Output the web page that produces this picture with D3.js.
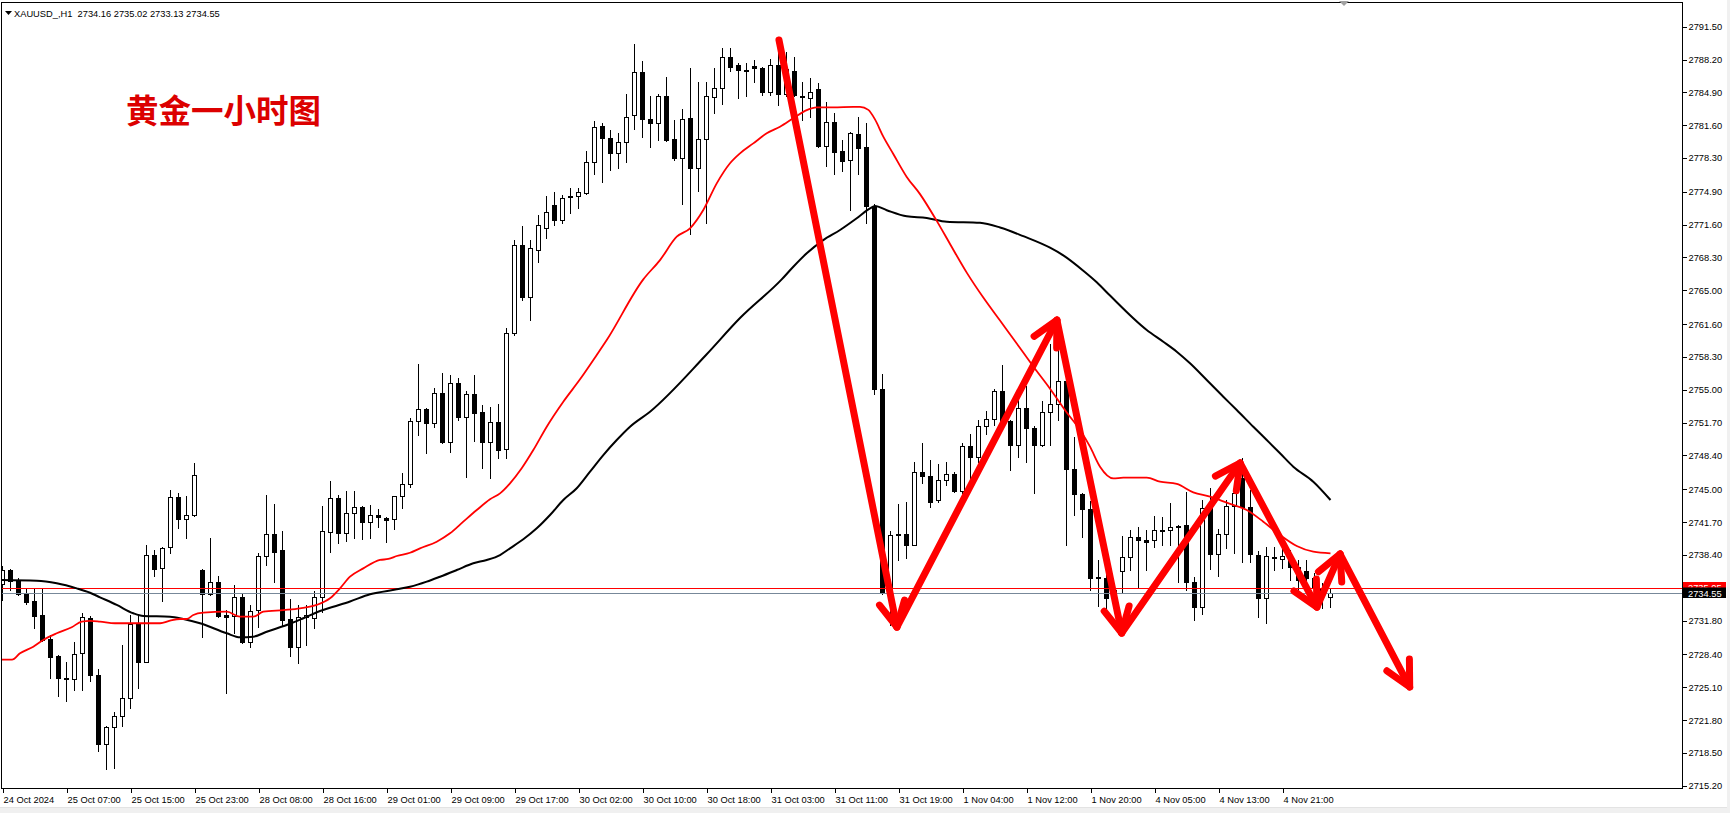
<!DOCTYPE html>
<html><head><meta charset="utf-8">
<script src="https://cdn.jsdelivr.net/npm/d3@7"></script>
<style>
html,body{margin:0;padding:0;background:#fff;overflow:hidden}
svg{display:block}
</style>
</head><body>
<svg id="chart" width="1730" height="813"></svg>
<script>
// ---------------- DATA ----------------
const symbolName = "XAUUSD_,H1";
const lastBarOHLC = ["2734.16", "2735.02", "2733.13", "2734.55"];
const titleText = "黄金一小时图";

const timeLabels = ["24 Oct 2024","25 Oct 07:00","25 Oct 15:00","25 Oct 23:00","28 Oct 08:00","28 Oct 16:00",
  "29 Oct 01:00","29 Oct 09:00","29 Oct 17:00","30 Oct 02:00","30 Oct 10:00","30 Oct 18:00","31 Oct 03:00",
  "31 Oct 11:00","31 Oct 19:00","1 Nov 04:00","1 Nov 12:00","1 Nov 20:00","4 Nov 05:00","4 Nov 13:00","4 Nov 21:00"];
const timeLabelBar = [0,8,16,24,32,40,48,56,64,72,80,88,96,104,112,120,128,136,144,152,160];

const priceTicks = [2791.50,2788.20,2784.90,2781.60,2778.30,2774.90,2771.60,2768.30,2765.00,2761.60,2758.30,
  2755.00,2751.70,2748.40,2745.00,2741.70,2738.40,2731.80,2728.40,2725.10,2721.80,2718.50,2715.20];

const open = [2735.48,2736.88,2735.88,2734.60,2733.77,2732.36,2729.95,2728.24,2726.06,2725.90,
2728.54,2732.06,2726.33,2719.36,2721.13,2722.24,2723.99,2731.42,2727.61,2738.39,
2737.05,2739.16,2744.19,2741.98,2742.44,2736.88,2734.44,2735.65,2732.33,2732.26,
2734.14,2729.62,2732.86,2738.29,2740.47,2738.89,2731.93,2729.17,2732.16,2732.09,
2734.14,2740.73,2744.09,2740.63,2742.58,2743.25,2741.74,2742.41,2742.08,2741.98,
2744.32,2745.50,2751.86,2753.07,2751.63,2754.65,2749.78,2755.65,2752.29,2754.54,
2752.74,2749.78,2751.73,2749.02,2760.71,2769.55,2764.33,2769.05,2771.26,2773.57,
2772.07,2774.51,2774.48,2774.81,2777.93,2781.51,2780.28,2778.77,2779.94,2782.62,
2786.97,2782.19,2781.85,2784.53,2780.18,2778.33,2782.29,2777.32,2780.18,2784.46,
2785.30,2788.42,2787.65,2787.19,2787.55,2787.31,2784.96,2787.65,2784.70,2787.04,
2784.58,2784.36,2785.20,2779.53,2781.89,2779.00,2778.10,2780.68,2779.37,2773.40,
2755.11,2734.54,2740.55,2740.50,2739.43,2746.74,2746.36,2743.94,2745.98,2746.55,
2744.82,2749.37,2748.28,2751.37,2752.06,2754.84,2751.83,2749.45,2753.18,2751.18,
2749.45,2752.80,2753.60,2755.87,2747.02,2744.51,2742.98,2736.16,2736.03,2734.87,
2736.78,2738.22,2740.23,2739.90,2739.90,2740.95,2740.90,2741.31,2741.41,2735.71,
2733.20,2743.15,2738.49,2740.47,2743.32,2746.10,2743.25,2738.36,2734.10,2738.22,
2738.02,2737.89,2737.15,2736.81,2736.05,2735.04,2734.16];

const high = [2737.29,2737.01,2736.08,2735.07,2735.07,2735.07,2730.35,2728.34,2727.64,2729.68,
2732.56,2732.21,2726.93,2721.20,2722.64,2729.34,2732.36,2732.36,2739.40,2738.89,
2739.23,2744.93,2744.59,2744.32,2747.61,2736.98,2740.07,2736.28,2732.86,2735.38,
2734.54,2733.37,2738.62,2744.42,2743.52,2740.80,2733.94,2733.37,2733.37,2734.80,
2743.32,2745.83,2744.42,2744.82,2744.82,2743.35,2743.42,2743.02,2742.24,2744.37,
2746.60,2752.13,2757.59,2753.14,2755.21,2756.66,2756.48,2756.15,2754.88,2756.48,
2753.47,2753.24,2753.57,2761.21,2770.06,2771.46,2770.06,2772.57,2774.48,2774.88,
2774.58,2775.25,2775.25,2779.00,2782.02,2781.79,2781.11,2780.78,2784.70,2789.76,
2788.05,2784.53,2784.70,2786.47,2782.12,2783.22,2787.31,2785.97,2785.91,2787.31,
2789.32,2789.32,2787.82,2787.82,2788.15,2787.41,2788.25,2788.98,2788.98,2788.48,
2785.97,2786.31,2785.87,2783.96,2782.79,2780.11,2780.94,2782.39,2781.79,2773.70,
2756.57,2740.77,2743.48,2743.67,2747.79,2749.64,2747.98,2747.52,2747.79,2746.74,
2749.64,2750.59,2751.94,2752.91,2755.11,2757.53,2751.96,2754.25,2755.41,2751.31,
2753.87,2759.65,2759.84,2755.98,2750.21,2744.62,2743.86,2737.84,2737.00,2735.38,
2740.30,2740.90,2741.24,2740.90,2742.31,2742.24,2743.65,2741.41,2744.69,2736.21,
2743.92,2745.16,2741.00,2743.92,2745.10,2748.11,2744.93,2738.82,2739.23,2739.17,
2739.23,2738.89,2737.89,2737.89,2736.55,2735.55,2735.02];

const low = [2733.87,2734.87,2734.37,2733.47,2731.08,2729.75,2726.06,2724.25,2723.75,2724.82,
2724.82,2725.73,2718.72,2716.88,2716.98,2721.23,2723.04,2725.05,2727.61,2736.28,
2733.80,2738.62,2741.14,2740.13,2742.34,2730.18,2734.37,2732.13,2724.55,2730.58,
2729.55,2729.11,2731.12,2737.39,2735.71,2731.25,2728.27,2727.56,2729.34,2731.02,
2732.69,2738.72,2739.57,2739.83,2740.13,2740.00,2740.13,2741.24,2739.73,2741.00,
2743.15,2745.26,2750.45,2748.67,2751.23,2749.62,2748.77,2751.96,2746.20,2749.88,
2747.17,2746.16,2748.11,2748.11,2760.51,2764.02,2762.01,2767.84,2770.26,2771.56,
2771.73,2772.80,2773.24,2774.65,2776.69,2775.92,2777.09,2777.26,2777.87,2781.18,
2780.44,2779.43,2780.11,2780.01,2778.10,2773.67,2770.66,2775.01,2771.79,2782.85,
2783.73,2787.07,2784.30,2784.56,2785.97,2784.63,2784.63,2783.63,2784.53,2784.58,
2782.12,2782.39,2779.45,2777.49,2776.69,2777.02,2773.07,2776.69,2771.79,2754.56,
2734.47,2731.35,2737.89,2738.09,2739.40,2745.59,2743.17,2743.74,2745.40,2744.70,
2744.62,2745.98,2747.71,2750.59,2751.49,2751.75,2746.94,2748.28,2747.79,2744.62,
2749.35,2749.45,2751.94,2739.43,2742.39,2740.20,2734.91,2733.31,2733.06,2733.37,
2734.54,2736.88,2735.20,2736.88,2739.23,2739.40,2739.40,2735.71,2734.87,2731.86,
2732.46,2736.95,2736.31,2739.06,2738.62,2737.72,2737.72,2732.19,2731.59,2736.88,
2737.05,2735.88,2734.87,2734.87,2733.87,2733.03,2733.13];

const close = [2736.88,2735.81,2734.47,2733.70,2732.26,2729.85,2728.17,2726.00,2725.90,2728.41,
2732.16,2726.36,2719.36,2721.10,2722.24,2724.02,2731.42,2727.66,2738.39,2736.95,
2739.06,2744.19,2741.98,2742.38,2746.40,2734.44,2735.65,2732.26,2732.19,2734.14,
2729.62,2732.79,2738.29,2740.47,2738.72,2731.86,2729.17,2732.13,2732.36,2734.14,
2740.80,2744.09,2740.63,2742.58,2743.19,2741.74,2742.41,2742.18,2741.94,2744.32,
2745.50,2751.86,2753.04,2751.63,2754.65,2749.78,2755.65,2752.29,2754.54,2752.70,
2749.78,2751.73,2748.95,2760.71,2769.55,2764.33,2769.25,2771.56,2772.87,2772.07,
2774.25,2774.35,2774.85,2777.93,2781.44,2780.28,2778.77,2779.94,2782.45,2786.97,
2782.19,2781.85,2784.53,2780.11,2778.33,2782.19,2777.32,2780.18,2784.53,2785.30,
2788.42,2787.48,2787.14,2787.09,2787.31,2784.96,2787.65,2784.70,2787.21,2784.63,
2784.48,2784.90,2779.50,2781.89,2778.93,2778.03,2780.78,2779.33,2773.50,2755.11,
2734.54,2740.40,2740.40,2739.43,2746.74,2746.36,2743.74,2745.98,2746.55,2744.82,
2749.37,2748.28,2751.37,2752.06,2754.84,2751.83,2749.45,2753.18,2751.18,2749.45,
2752.80,2753.60,2755.87,2747.02,2744.51,2742.98,2736.08,2736.04,2734.04,2734.07,
2738.22,2740.23,2739.90,2739.73,2740.90,2740.85,2741.24,2741.24,2735.71,2733.20,
2743.15,2738.49,2740.47,2743.32,2744.65,2743.25,2738.46,2734.10,2738.29,2738.06,
2738.29,2737.15,2735.88,2736.05,2735.04,2734.54,2734.55];

// fast (red) moving average: [bar, price]
const maFast = [[-0.2,2727.87],[1.19,2727.87],[2.19,2728.51],[3.85,2729.17],[5.10,2729.85],[6.78,2730.52],
[8.65,2731.13],[9.90,2731.69],[10.94,2731.76],[12.19,2731.69],[14.06,2731.53],[17.19,2731.53],[19.69,2731.53],
[20.94,2731.79],[22.19,2731.96],[23.03,2731.96],[23.85,2732.36],[25.10,2732.59],[28.03,2732.69],[29.69,2732.19],
[31.35,2732.19],[32.60,2732.69],[35.10,2732.86],[37.19,2733.03],[39.28,2733.37],[40.94,2734.04],[42.19,2735.04],
[43.44,2736.21],[45.10,2737.05],[47.19,2737.89],[48.23,2737.99],[49.28,2738.29],[50.94,2738.62],[52.19,2739.06],
[54.28,2739.73],[55.94,2740.57],[57.60,2741.74],[59.28,2742.91],[60.94,2743.99],[62.19,2744.59],[63.44,2745.60],
[64.90,2747.11],[66.35,2748.94],[68.03,2751.29],[70.10,2753.80],[72.19,2756.05],[74.28,2758.50],[75.53,2760.00],
[80.10,2766.10],[82.19,2768.04],[84.28,2770.39],[85.94,2771.23],[87.60,2773.07],[89.28,2775.75],[90.94,2777.77],
[92.19,2778.77],[93.85,2779.77],[95.53,2780.78],[97.19,2781.44],[98.85,2782.29],[100.53,2783.12],[101.78,2783.39],
[103.85,2783.39],[106.35,2783.45],[107.19,2783.45],[108.23,2783.14],[109.06,2782.18],[110.10,2780.45],[111.35,2778.71],
[113.03,2776.40],[114.69,2774.67],[116.78,2771.98],[118.44,2769.66],[120.53,2766.78],[122.60,2764.27],[124.69,2761.96],
[126.78,2759.65],[128.85,2757.34],[130.94,2755.11],[133.03,2752.72],[134.69,2750.96],[135.94,2749.28],[137.19,2747.27],
[138.85,2746.10],[140.10,2746.16],[143.03,2746.16],[144.69,2745.76],[146.78,2745.53],[148.85,2744.69],[150.94,2744.25],
[153.03,2743.65],[155.53,2742.91],[157.60,2741.74],[159.69,2740.40],[161.78,2739.29],[163.85,2738.72],[166.0,2738.56]];

// slow (black) moving average: [bar, price]
const maSlow = [[-0.2,2735.88],[4.28,2735.81],[6.78,2735.55],[9.28,2735.04],[10.94,2734.60],[12.19,2734.14],
[14.28,2733.37],[16.35,2732.53],[17.60,2732.26],[20.94,2732.19],[22.60,2731.96],[24.69,2731.53],[28.03,2730.52],
[29.69,2730.12],[31.35,2730.18],[33.03,2730.68],[35.53,2731.35],[37.60,2732.03],[39.69,2732.76],[41.35,2733.19],
[43.44,2733.72],[45.94,2734.44],[49.28,2734.94],[50.94,2735.20],[53.03,2735.71],[54.69,2736.21],[56.78,2736.88],
[58.85,2737.56],[60.53,2737.89],[62.19,2738.39],[63.44,2739.06],[65.10,2739.97],[66.78,2741.07],[68.44,2742.41],
[70.10,2743.92],[71.78,2745.10],[73.44,2746.77],[75.10,2748.44],[76.78,2749.95],[78.44,2751.29],[80.94,2752.80],
[87.94,2758.50],[92.19,2762.21],[97.40,2766.10],[98.85,2767.37],[100.53,2768.72],[102.60,2770.05],[104.69,2771.06],
[106.78,2772.24],[108.44,2773.24],[109.06,2773.47],[110.53,2773.05],[113.03,2772.44],[115.53,2772.28],[118.03,2771.89],
[122.19,2771.78],[124.69,2771.32],[127.60,2770.44],[130.94,2769.28],[132.60,2768.51],[135.10,2766.97],[136.78,2765.81],
[138.44,2764.47],[143.03,2761.01],[145.10,2759.83],[146.78,2758.83],[148.44,2757.66],[150.53,2755.98],[152.60,2754.30],
[154.28,2752.97],[156.35,2751.29],[158.03,2749.95],[159.69,2748.62],[161.35,2747.27],[163.85,2745.76],[166.0,2743.92]];

const bidPrice = 2734.55;
const askPrice = 2735.05;

// hand-drawn red arrows (zig-zag), vertices as [bar, price]
const arrowPoints = [[97.06,2790.16],[111.8,2731.15],[131.8,2762.01],[139.9,2730.55],
  [154.7,2747.64],[164.3,2733.16],[167.2,2738.49],[175.9,2725.12]];

// ---------------- DRAW ----------------
const W = 1730, H = 813;
const plotL = 1, plotT = 2, plotR = 1682, plotB = 788;
const svg = d3.select("#chart");
const FONT = "'Liberation Sans', Arial, sans-serif";

const x = d3.scaleLinear().domain([0, 166]).range([2.5, 1330.5]);
const y = d3.scaleLinear().domain([2715.20, 2791.50]).range([785.7, 26.7]);

svg.append("rect").attr("width", W).attr("height", H).attr("fill", "#fff");

// bottom strip + right strip (window chrome)
svg.append("rect").attr("x", 0).attr("y", 808).attr("width", W).attr("height", 5).attr("fill", "#f0f0f0");
svg.append("line").attr("x1", 0).attr("x2", W).attr("y1", 807.5).attr("y2", 807.5).attr("stroke", "#e3e3e3");
svg.append("rect").attr("x", 1727).attr("y", 0).attr("width", 3).attr("height", H).attr("fill", "#f0f0f0");

const defs = svg.append("defs");
defs.append("clipPath").attr("id", "plotclip").append("rect")
  .attr("x", plotL + 1).attr("y", plotT + 1).attr("width", plotR - plotL - 1).attr("height", plotB - plotT - 1);

const plot = svg.append("g").attr("clip-path", "url(#plotclip)");

// candles
const bars = d3.range(open.length);
const cg = plot.append("g").attr("shape-rendering", "crispEdges");
bars.forEach(i => {
  const cx = x(i);
  const yh = Math.round(y(high[i])), yl = Math.round(y(low[i]));
  const yt = Math.round(y(Math.max(open[i], close[i])));
  const yb = Math.round(y(Math.min(open[i], close[i])));
  cg.append("line").attr("x1", cx).attr("x2", cx).attr("y1", yh).attr("y2", yl + 1)
    .attr("stroke", "#000").attr("stroke-width", 1);
  const bull = close[i] > open[i];
  if (yb - yt < 2) {
    cg.append("rect").attr("x", cx - 2.5).attr("y", yt).attr("width", 5).attr("height", Math.max(1, yb - yt + 1))
      .attr("fill", "#000");
  } else if (bull) {
    cg.append("rect").attr("x", cx - 2).attr("y", yt + 0.5).attr("width", 4).attr("height", yb - yt)
      .attr("fill", "#fff").attr("stroke", "#000").attr("stroke-width", 1);
  } else {
    cg.append("rect").attr("x", cx - 2.5).attr("y", yt).attr("width", 5).attr("height", yb - yt + 1)
      .attr("fill", "#000");
  }
});

// bid / ask lines
plot.append("line").attr("x1", plotL).attr("x2", plotR).attr("y1", Math.round(y(askPrice)) + 0.5).attr("y2", Math.round(y(askPrice)) + 0.5)
  .attr("stroke", "#ff0000").attr("stroke-width", 1);
plot.append("line").attr("x1", plotL).attr("x2", plotR).attr("y1", Math.round(y(bidPrice)) + 0.5).attr("y2", Math.round(y(bidPrice)) + 0.5)
  .attr("stroke", "#778899").attr("stroke-width", 1);

// moving averages
const maLine = d3.line().x(d => x(d[0])).y(d => y(d[1])).curve(d3.curveMonotoneX);
plot.append("path").attr("d", maLine(maSlow))
  .attr("fill", "none").attr("stroke", "#000").attr("stroke-width", 2);
plot.append("path").attr("d", maLine(maFast))
  .attr("fill", "none").attr("stroke", "#ff0000").attr("stroke-width", 1.8);

// arrows
const ag = plot.append("g").attr("fill", "none").attr("stroke", "#ff0000")
  .attr("stroke-width", 7).attr("stroke-linecap", "round").attr("stroke-linejoin", "round");
for (let k = 0; k < arrowPoints.length - 1; k++) {
  const p0 = [x(arrowPoints[k][0]), y(arrowPoints[k][1])];
  const p1 = [x(arrowPoints[k + 1][0]), y(arrowPoints[k + 1][1])];
  ag.append("line").attr("x1", p0[0]).attr("y1", p0[1]).attr("x2", p1[0]).attr("y2", p1[1]);
  const dx = p0[0] - p1[0], dy = p0[1] - p1[1];
  const len = Math.hypot(dx, dy), ux = dx / len, uy = dy / len;
  const th = 27 * Math.PI / 180, L = 28;
  const b1 = [p1[0] + L * (ux * Math.cos(th) - uy * Math.sin(th)), p1[1] + L * (ux * Math.sin(th) + uy * Math.cos(th))];
  const b2 = [p1[0] + L * (ux * Math.cos(-th) - uy * Math.sin(-th)), p1[1] + L * (ux * Math.sin(-th) + uy * Math.cos(-th))];
  ag.append("path").attr("d", `M${b1[0]},${b1[1]}L${p1[0]},${p1[1]}L${b2[0]},${b2[1]}`);
}

// frame
svg.append("rect").attr("x", plotL + 0.5).attr("y", plotT + 0.5).attr("width", plotR - plotL).attr("height", plotB - plotT)
  .attr("fill", "none").attr("stroke", "#000").attr("stroke-width", 1).attr("shape-rendering", "crispEdges");

// chart-shift marker
svg.append("path").attr("d", "M1339,1L1349,1L1344,6Z").attr("fill", "#a0a0a0");

// y axis
const yAxis = d3.axisRight(y).tickValues(priceTicks).tickFormat(d3.format(".2f")).tickSize(4).tickPadding(2);
const gy = svg.append("g").attr("transform", `translate(${plotR + 0.5},0)`).call(yAxis);
gy.select(".domain").remove();
gy.selectAll("line").attr("stroke", "#000").attr("shape-rendering", "crispEdges");
gy.selectAll("text").attr("font-family", FONT).attr("font-size", "9.3px").attr("fill", "#000");

// x axis
const xAxis = d3.axisBottom(x).tickValues(timeLabelBar).tickFormat((d, i) => timeLabels[i]).tickSize(4).tickPadding(4);
const gx = svg.append("g").attr("transform", `translate(0,${plotB + 0.5})`).call(xAxis);
gx.select(".domain").remove();
gx.selectAll("line").attr("stroke", "#000").attr("shape-rendering", "crispEdges");
gx.selectAll("text").attr("font-family", FONT).attr("font-size", "9.3px").attr("fill", "#000")
  .attr("text-anchor", "start").attr("dx", "0.5");

// price labels (ask label is partly covered by the bid label, as in MT4)
const boxX = plotR + 1, boxW = 43;
const ya = Math.round(y(askPrice)), yb = Math.round(y(bidPrice));
defs.append("clipPath").attr("id", "askclip").append("rect")
  .attr("x", boxX).attr("y", ya - 6).attr("width", boxW).attr("height", (yb - 5.5) - (ya - 6));
svg.append("rect").attr("x", boxX).attr("y", ya - 6).attr("width", boxW).attr("height", 11).attr("fill", "#ff0000");
svg.append("text").attr("clip-path", "url(#askclip)").attr("x", boxX + 5).attr("y", ya + 3.3).text(askPrice.toFixed(2))
  .attr("font-family", FONT).attr("font-size", "9.3px").attr("fill", "#fff");
svg.append("rect").attr("x", boxX).attr("y", yb - 5.5).attr("width", boxW).attr("height", 10.5).attr("fill", "#000");
svg.append("text").attr("x", boxX + 5).attr("y", yb + 3.5).text(bidPrice.toFixed(2))
  .attr("font-family", FONT).attr("font-size", "9.3px").attr("fill", "#fff");

// header
svg.append("path").attr("d", "M5,11L12,11L8.5,15Z").attr("fill", "#000");
svg.append("text").attr("x", 14).attr("y", 16.5).attr("font-family", FONT).attr("font-size", "9.3px").attr("fill", "#000")
  .attr("xml:space", "preserve").text(symbolName + "  " + lastBarOHLC.join(" "));

// title
svg.append("text").attr("x", 126).attr("y", 123).text(titleText)
  .attr("font-family", "'Noto Sans CJK SC', sans-serif").attr("font-weight", 700).attr("font-size", "32.5px")
  .attr("fill", "#dc0000");
</script>
</body></html>
